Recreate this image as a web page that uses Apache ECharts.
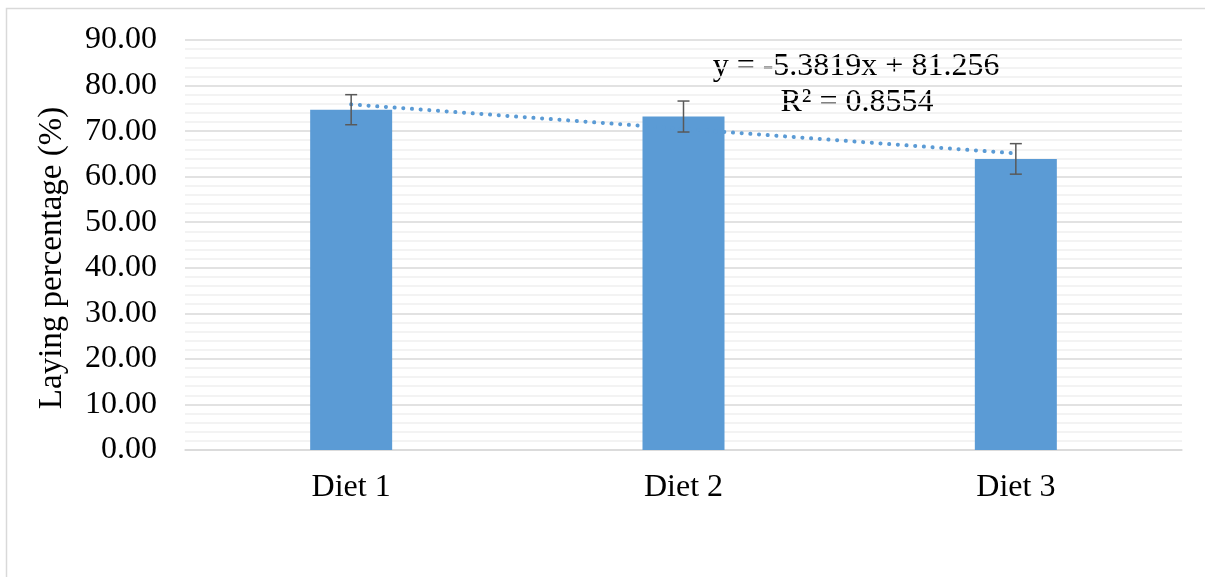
<!DOCTYPE html>
<html>
<head>
<meta charset="utf-8">
<script src="https://cdn.jsdelivr.net/npm/echarts@6/dist/echarts.min.js"></script>
<style>
html,body{margin:0;padding:0;background:#fff;}
#chart{width:1205px;height:577px;}
</style>
</head>
<body>
<div id="chart"></div>
<script>
// Data
var categories = ['Diet 1', 'Diet 2', 'Diet 3'];
var layingPct = [74.7, 73.2, 63.9];
var errorPct = [3.3, 3.4, 3.35];
var trendValues = [75.87, null, 65.11];
var yTicks = { min: 0, max: 90, interval: 10 };
var equationText = 'y = -5.3819x + 81.256';
var r2Text = 'R\u00B2 = 0.8554';
var yAxisTitle = 'Laying percentage (%)';

var FONT = '"Liberation Serif", "Times New Roman", serif';
var FS = 32;
var chart = echarts.init(document.getElementById('chart'));

var errData = layingPct.map(function (v, i) { return [i, v - errorPct[i], v + errorPct[i]]; });

var option = {
  animation: false,
  backgroundColor: '#ffffff',
  grid: { left: 185, right: 23, top: 40, bottom: 127, containLabel: false },
  xAxis: {
    type: 'category',
    data: categories,
    axisLine: { show: true, lineStyle: { color: '#d9d9d9', width: 1.5 } },
    axisTick: { show: false },
    axisLabel: { color: '#000', fontFamily: FONT, fontSize: FS, margin: 22 }
  },
  yAxis: {
    type: 'value',
    min: yTicks.min, max: yTicks.max, interval: yTicks.interval,
    name: yAxisTitle,
    nameLocation: 'middle',
    nameRotate: 90,
    nameGap: 116,
    nameTextStyle: { color: '#000', fontFamily: FONT, fontSize: 33, padding: [0, 26, 0, 0] },
    axisLine: { show: false },
    axisTick: { show: false },
    axisLabel: { color: '#000', fontFamily: FONT, fontSize: FS, margin: 28,
      formatter: function (v) { return v.toFixed(2); } },
    splitLine: { show: true, lineStyle: { color: '#d9d9d9', width: 1.5 } },
    minorTick: { show: false, splitNumber: 5 },
    minorSplitLine: { show: true, lineStyle: { color: '#efefef', width: 1.5 } }
  },
  series: [
    {
      type: 'bar',
      data: layingPct,
      barWidth: 82,
      itemStyle: { color: '#5b9bd5' },
      z: 2
    },
    {
      type: 'line',
      data: trendValues,
      connectNulls: true,
      symbol: 'none',
      lineStyle: { color: '#5b9bd5', width: 4, type: [0.1, 8.6], cap: 'round' },
      z: 3
    },
    {
      type: 'custom',
      data: errData,
      z: 4,
      renderItem: function (params, api) {
        var x = api.value(0);
        var lo = api.coord([x, api.value(1)]);
        var hi = api.coord([x, api.value(2)]);
        var cap = 12;
        var st = { stroke: '#595959', lineWidth: 1.5 };
        return {
          type: 'group',
          children: [
            { type: 'line', shape: { x1: lo[0], y1: lo[1], x2: hi[0], y2: hi[1] }, style: st },
            { type: 'line', shape: { x1: lo[0] - cap / 2, y1: lo[1], x2: lo[0] + cap / 2, y2: lo[1] }, style: st },
            { type: 'line', shape: { x1: hi[0] - cap / 2, y1: hi[1], x2: hi[0] + cap / 2, y2: hi[1] }, style: st }
          ]
        };
      }
    }
  ],
  graphic: [
    { type: 'rect', shape: { x: 6.5, y: 8.5, width: 1210, height: 600 },
      style: { fill: 'none', stroke: '#d9d9d9', lineWidth: 1.5 }, silent: true },
    { type: 'text', x: 856, y: 67, style: { text: equationText, font: FS + 'px ' + FONT, fill: '#000', textAlign: 'center', textVerticalAlign: 'middle' } },
    { type: 'text', x: 857, y: 103, style: { text: r2Text, font: FS + 'px ' + FONT, fill: '#000', textAlign: 'center', textVerticalAlign: 'middle' } }
  ]
};
chart.setOption(option);
</script>
</body>
</html>
